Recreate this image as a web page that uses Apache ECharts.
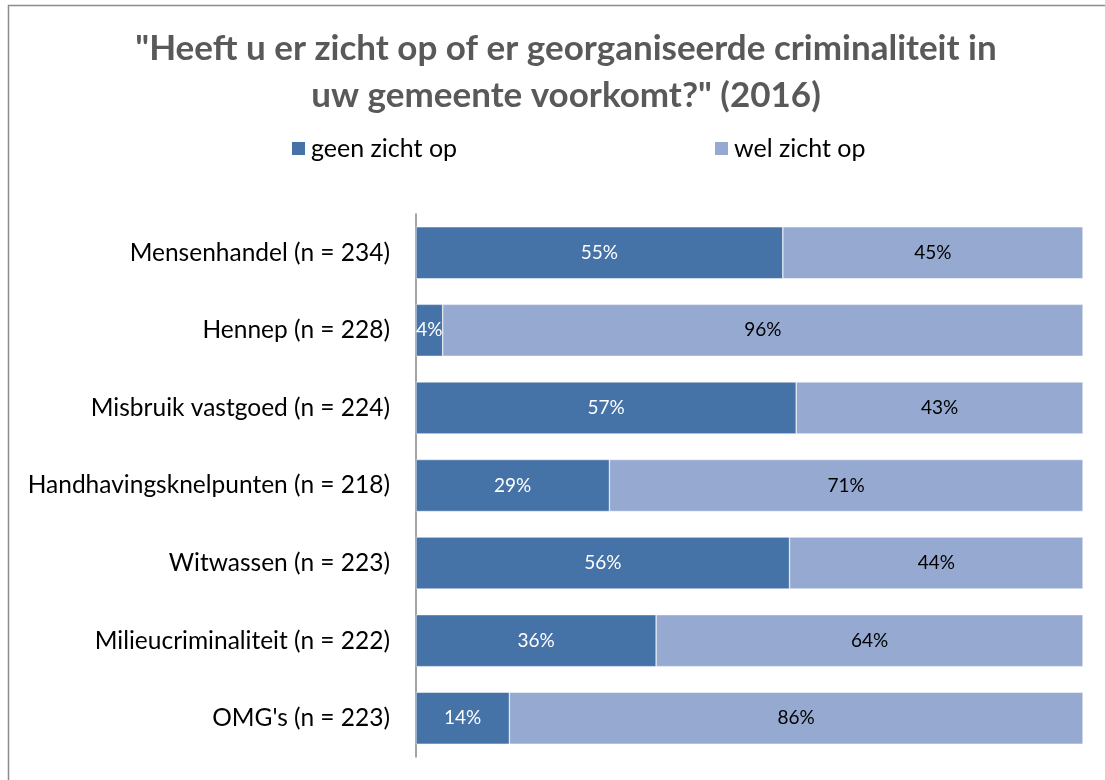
<!DOCTYPE html>
<html>
<head>
<meta charset="utf-8">
<title>Georganiseerde criminaliteit 2016</title>
<script src="https://cdn.jsdelivr.net/npm/echarts@6/dist/echarts.min.js"></script>
<style>
  html, body { margin: 0; padding: 0; background: #fff; }
  #main { width: 1105px; height: 780px; }
</style>
</head>
<body>
<div id="main"></div>
<script>
var categories = [
  'Mensenhandel (n = 234)',
  'Hennep (n = 228)',
  'Misbruik vastgoed (n = 224)',
  'Handhavingsknelpunten (n = 218)',
  'Witwassen (n = 223)',
  'Milieucriminaliteit (n = 222)',
  "OMG's (n = 223)"
];
var geenZicht = [55, 4, 57, 29, 56, 36, 14];
var welZicht = [45, 96, 43, 71, 44, 64, 86];

var font = 'Lato, "Open Sans", sans-serif';

var myChart = echarts.init(document.getElementById('main'));
var option = {
  backgroundColor: '#fff',
  animation: false,
  title: {
    text: '"Heeft u er zicht op of er georganiseerde criminaliteit in\nuw gemeente voorkomt?" (2016)',
    left: 561,
    textAlign: 'center',
    top: 20,
    textStyle: {
      fontFamily: font,
      fontSize: 35,
      fontWeight: 'bold',
      color: '#595959',
      lineHeight: 47
    }
  },
  legend: [{
    data: ['geen zicht op'],
    left: 285,
    top: 131,
    icon: 'rect',
    itemWidth: 15,
    itemHeight: 15,
    itemGap: 6,
    textStyle: { fontFamily: font, fontSize: 25, color: '#000' }
  }, {
    data: ['wel zicht op'],
    left: 708,
    top: 131,
    icon: 'rect',
    itemWidth: 15,
    itemHeight: 15,
    textStyle: { fontFamily: font, fontSize: 25, color: '#000' }
  }],
  grid: {
    left: 416,
    right: 22,
    top: 214,
    bottom: 23,
    containLabel: false
  },
  xAxis: {
    type: 'value',
    min: 0,
    max: 100,
    show: false
  },
  yAxis: {
    type: 'category',
    inverse: true,
    data: categories,
    axisLine: { show: true, lineStyle: { color: '#868686', width: 1.5 } },
    axisTick: { show: false },
    axisLabel: {
      margin: 26,
      fontFamily: font,
      fontSize: 24.5,
      color: '#000'
    }
  },
  graphic: [{
    type: 'rect',
    shape: { x: 8.5, y: 5.5, width: 1200, height: 900 },
    style: { fill: 'none', stroke: '#8c8c8c', lineWidth: 1.5 },
    silent: true
  }],
  series: [{
    name: 'geen zicht op',
    type: 'bar',
    stack: 'total',
    barWidth: '67%',
    data: geenZicht,
    itemStyle: { color: '#4572a7', borderColor: '#fff', borderWidth: 0.5 },
    label: {
      show: true,
      position: 'inside',
      formatter: '{c}%',
      fontFamily: font,
      fontSize: 19,
      color: '#fff'
    }
  }, {
    name: 'wel zicht op',
    type: 'bar',
    stack: 'total',
    data: welZicht,
    itemStyle: { color: '#95a9d1', borderColor: '#fff', borderWidth: 0.5 },
    label: {
      show: true,
      position: 'inside',
      formatter: '{c}%',
      fontFamily: font,
      fontSize: 19,
      color: '#000'
    }
  }]
};
myChart.setOption(option);
</script>
</body>
</html>
